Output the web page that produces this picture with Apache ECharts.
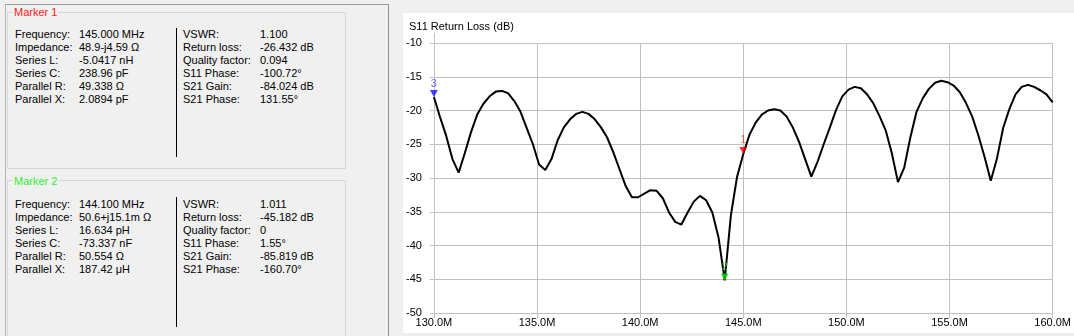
<!DOCTYPE html>
<html>
<head>
<meta charset="utf-8">
<script src="https://cdn.jsdelivr.net/npm/echarts/dist/echarts.min.js"></script>
<style>
  html, body { margin: 0; padding: 0; width: 1074px; height: 336px; overflow: hidden; background: #f0f0f0;
    font-family: "Liberation Sans", Arial, sans-serif; font-size: 11px; color: #000; }
  .frame { position: absolute; left: 5px; top: 4px; width: 382px; height: 400px;
    border-top: 1px solid #9a9aa2; border-left: 1px solid #b4b4b8; border-right: 1px solid #8c8c96; }
  .box { position: absolute; left: 7px; width: 337px; border: 1px solid #d6d6d6; }
  .title { position: absolute; left: 13px; background: #f0f0f0; padding: 0 1px; line-height: 13px; font-size: 11px; }
  .row { position: absolute; line-height: 13px; white-space: nowrap; }
  .div { position: absolute; left: 176px; width: 1px; background: #000; }
  #chart { position: absolute; left: 403px; top: 13px; width: 671px; height: 320px; background: #fff; }
</style>
</head>
<body>
<div class="frame"></div>
<div class="box" style="top:12px;height:155px;"></div>
<div class="title" style="top:6px;color:#ff1a1a;">Marker 1</div>
<div class="div" style="top:28px;height:129px;"></div>
<div class="box" style="top:180px;height:200px;"></div>
<div class="title" style="top:175px;color:#2ef02e;">Marker 2</div>
<div class="div" style="top:197px;height:130px;"></div>
<div id="panel"></div>
<div id="chart"></div>
<script>
// ---- Marker panel texts ----
const panelLabelsLeft = ["Frequency:", "Impedance:", "Series L:", "Series C:", "Parallel R:", "Parallel X:"];
const panelLabelsRight = ["VSWR:", "Return loss:", "Quality factor:", "S11 Phase:", "S21 Gain:", "S21 Phase:"];
const marker1Left = ["145.000 MHz", "48.9-j4.59 Ω", "-5.0417 nH", "238.96 pF", "49.338 Ω", "2.0894 pF"];
const marker1Right = ["1.100", "-26.432 dB", "0.094", "-100.72°", "-84.024 dB", "131.55°"];
const marker2Left = ["144.100 MHz", "50.6+j15.1m Ω", "16.634 pH", "-73.337 nF", "50.554 Ω", "187.42 μH"];
const marker2Right = ["1.011", "-45.182 dB", "0", "1.55°", "-85.819 dB", "-160.70°"];

// ---- Chart data ----
const chartTitle = "S11 Return Loss (dB)";
const freqStart = 130.0;   // MHz
const freqStep = 0.3;      // MHz
const returnLoss = [
  -18.0, -21.0, -23.8, -27.2, -29.2, -26.3, -23.2, -20.6, -19.0, -17.9,
  -17.2, -17.1, -17.45, -18.6, -20.2, -22.6, -25.0, -28.0, -28.8, -27.2,
  -24.4, -22.5, -21.3, -20.5, -20.2, -20.5, -21.3, -22.5, -24.0, -26.2,
  -28.7, -31.2, -32.85, -32.85, -32.3, -31.8, -31.9, -33.0, -35.1, -36.5,
  -36.9, -35.1, -33.5, -32.65, -33.3, -35.1, -38.8, -45.18, -35.5, -29.8,
  -26.43, -23.6, -21.8, -20.6, -20.0, -19.8, -20.0, -20.9, -22.5, -24.6,
  -27.2, -29.8, -27.6, -25.0, -22.5, -19.9, -17.9, -16.9, -16.5, -16.7,
  -17.6, -18.9, -20.8, -22.9, -26.3, -30.6, -28.5, -24.0, -20.2, -18.2,
  -16.8, -15.9, -15.6, -15.8, -16.3, -17.3, -18.9, -20.9, -23.7, -26.9,
  -30.4, -27.1, -22.6, -19.8, -17.6, -16.5, -16.2, -16.5, -17.0, -17.6,
  -18.8
];
const markerNames = ["1", "2", "3"];
const markerFreqs = [145.0, 144.1, 130.0];
const markerColors = ["#ff0000", "#00e000", "#1010ff"];
const markerLabelColors = ["#ff3a1a", "#22e022", "#4a4aff"];
const yMin = -50, yMax = -10, yStep = 5;
const xMin = 130, xMax = 160, xStep = 5;

// ---- build panel ----
const panel = document.getElementById('panel');
function addRows(top, labelsL, valsL, labelsR, valsR) {
  for (let i = 0; i < 6; i++) {
    const y = top + i * 13;
    [[15, labelsL[i]], [79, valsL[i]], [183, labelsR[i]], [260, valsR[i]]].forEach(([x, t]) => {
      const d = document.createElement('div');
      d.className = 'row';
      d.style.left = x + 'px';
      d.style.top = y + 'px';
      d.textContent = t;
      panel.appendChild(d);
    });
  }
}
addRows(28, panelLabelsLeft, marker1Left, panelLabelsRight, marker1Right);
addRows(197.5, panelLabelsLeft, marker2Left, panelLabelsRight, marker2Right);

// ---- chart ----
const seriesData = returnLoss.map((v, i) => [+(freqStart + i * freqStep).toFixed(1), v]);
const markerData = markerNames.map((n, k) => {
  const idx = Math.round((markerFreqs[k] - freqStart) / freqStep);
  return {
    name: n,
    value: [markerFreqs[k], returnLoss[idx]],
    itemStyle: { color: markerColors[k] },
    label: { color: markerLabelColors[k] }
  };
});

const chart = echarts.init(document.getElementById('chart'), null, { renderer: 'canvas' });
const font = '"Liberation Sans", Arial, sans-serif';
chart.setOption({
  animation: false,
  backgroundColor: '#ffffff',
  title: {
    text: chartTitle, left: 1, top: 3,
    textStyle: { fontFamily: font, fontSize: 11, fontWeight: 'normal', color: '#000' }
  },
  grid: { left: 30, right: 20, top: 30, bottom: 20, containLabel: false },
  xAxis: {
    type: 'value', min: xMin, max: xMax, interval: xStep,
    axisLine: { show: true, lineStyle: { color: '#c0c0c0' } },
    axisTick: { show: true, length: 5, lineStyle: { color: '#c0c0c0' } },
    splitLine: { show: true, lineStyle: { color: '#c0c0c0', width: 1 } },
    axisLabel: { margin: 4, fontFamily: font, fontSize: 11, color: '#000',
      formatter: v => v.toFixed(1) + 'M' }
  },
  yAxis: {
    type: 'value', min: yMin, max: yMax, interval: yStep,
    axisLine: { show: true, lineStyle: { color: '#c0c0c0' } },
    axisTick: { show: true, length: 4, lineStyle: { color: '#c0c0c0' } },
    splitLine: { show: true, lineStyle: { color: '#c0c0c0', width: 1 } },
    axisLabel: { margin: 12, fontFamily: font, fontSize: 11, color: '#000' }
  },
  series: [
    {
      type: 'line', data: seriesData, showSymbol: false, smooth: false,
      lineStyle: { color: '#000', width: 2 }, z: 2
    },
    {
      type: 'scatter', data: markerData, symbol: 'triangle', symbolRotate: 180,
      symbolSize: [8, 7], symbolOffset: [0, -3.5], z: 3,
      label: { show: true, position: 'top', distance: 1, formatter: p => p.name,
        fontFamily: font, fontSize: 11 }
    }
  ]
});
const p = chart.convertToPixel({ gridIndex: 0 }, [xMin, yMax]);
const px = Math.round(p[0]) + 0.5;
chart.setOption({
  graphic: [{ type: 'line', shape: { x1: px, y1: p[1] - 10, x2: px, y2: p[1] },
    style: { stroke: '#c0c0c0', lineWidth: 1 } }]
});
</script>
</body>
</html>
